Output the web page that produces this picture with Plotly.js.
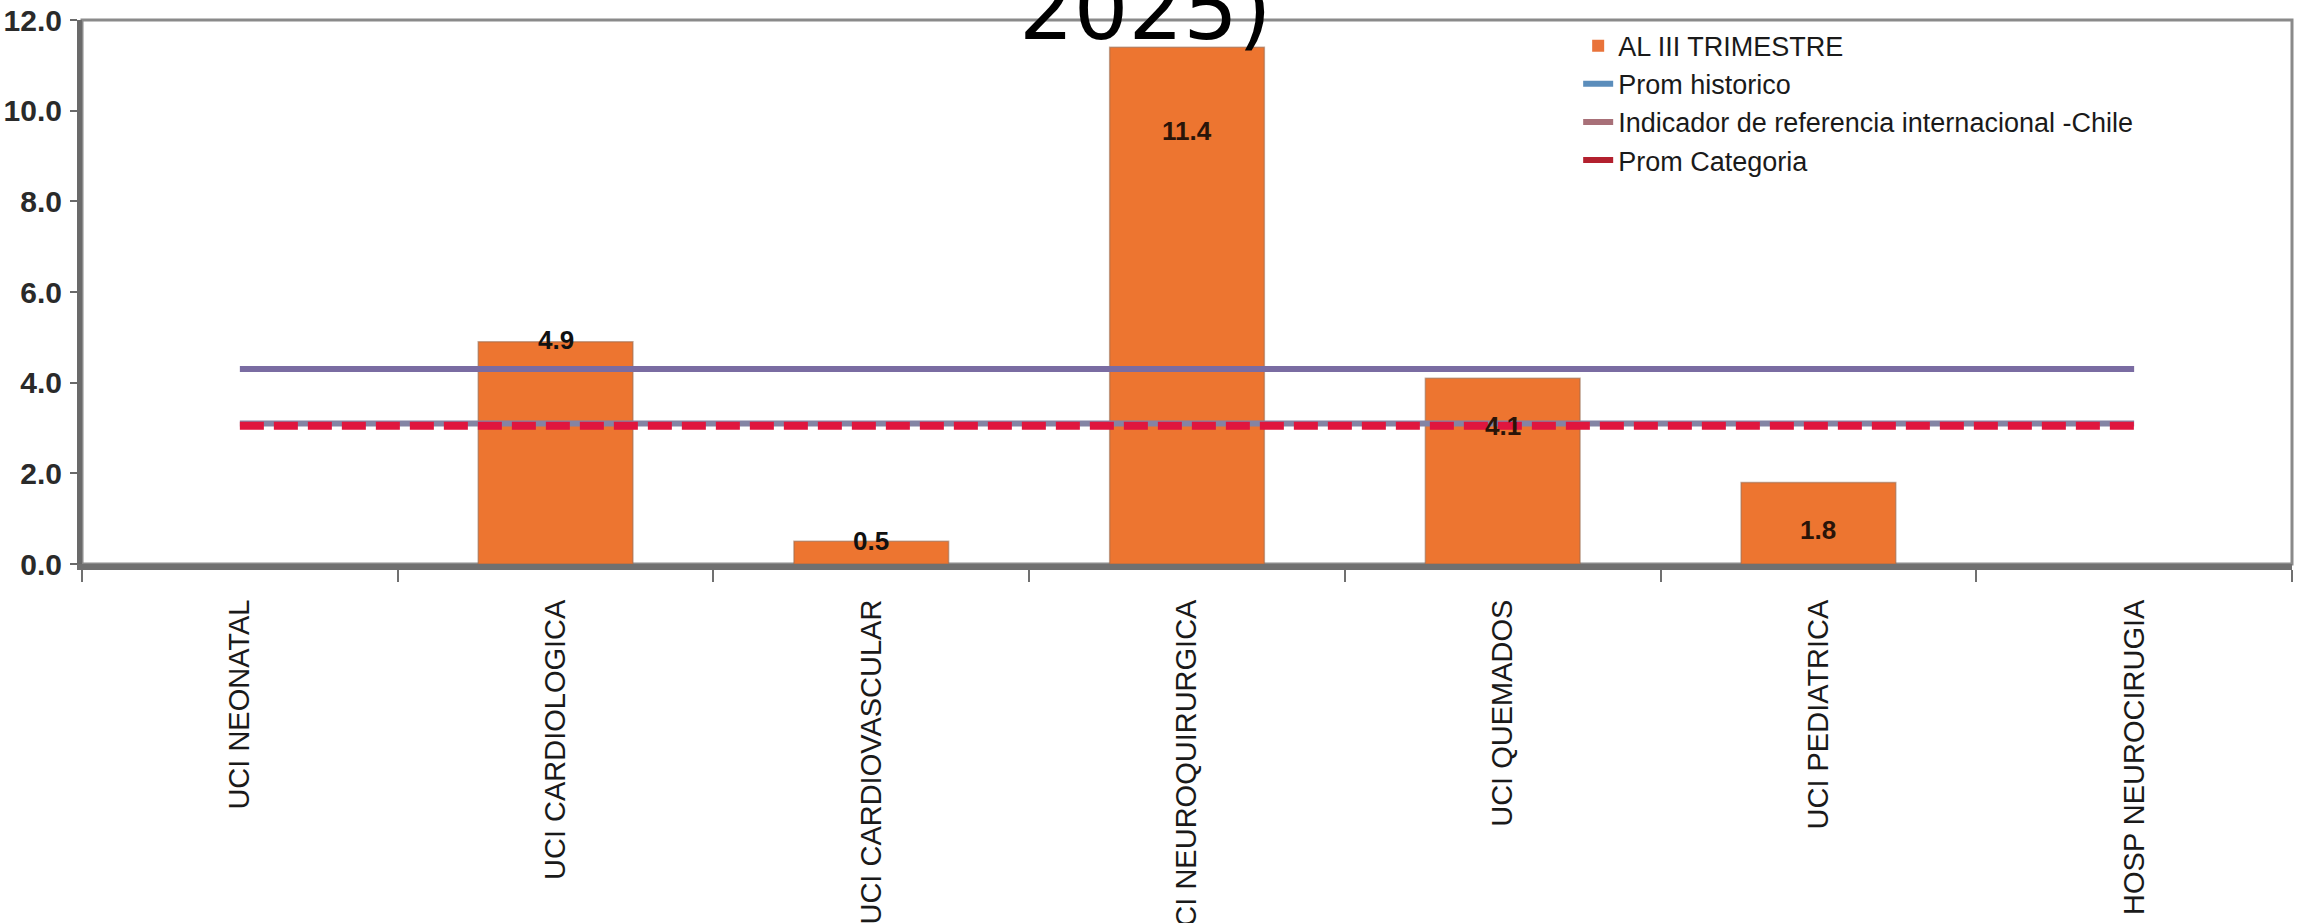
<!DOCTYPE html>
<html>
<head>
<meta charset="utf-8">
<script src="https://cdn.plot.ly/plotly-3.0.1.min.js"></script>
<style>
  html, body { margin: 0; padding: 0; background: #ffffff; }
  #chart { width: 2302px; height: 923px; }
</style>
</head>
<body>
<div id="chart"></div>
<script>
// ---- data ----
const categories = ['UCI NEONATAL', 'UCI CARDIOLOGICA', 'UCI CARDIOVASCULAR', 'UCI NEUROQUIRURGICA', 'UCI QUEMADOS', 'UCI PEDIATRICA', 'HOSP NEUROCIRUGIA'];
const alIIITrimestre = [null, 4.9, 0.5, 11.4, 4.1, 1.8, null];
const promHistorico = [4.3, 4.3, 4.3, 4.3, 4.3, 4.3, 4.3];
const indicadorInternacional = [3.1, 3.1, 3.1, 3.1, 3.1, 3.1, 3.1];
const promCategoria = [3.05, 3.05, 3.05, 3.05, 3.05, 3.05, 3.05];
const yTickValues = [0, 2, 4, 6, 8, 10, 12];
const titleText = '2025)';

// ---- style (label offsets in px) ----
const labelShift = [0, 2, 0, -84, -48, -48, 0];

const traces = [
  {
    type: 'bar', name: 'AL III TRIMESTRE', x: categories, y: alIIITrimestre,
    marker: { color: '#ED7530', line: { color: 'rgba(150,105,80,0.55)', width: 1.5 } },
    showlegend: false, hoverinfo: 'x+y'
  },
  {
    type: 'scatter', mode: 'lines', name: 'Indicador de referencia internacional -Chile',
    x: categories, y: indicadorInternacional,
    line: { color: '#8484A4', width: 6 }, showlegend: false
  },
  {
    type: 'scatter', mode: 'lines', name: 'Prom historico',
    x: categories, y: promHistorico,
    line: { color: '#7A6CA2', width: 6 }, showlegend: false
  },
  {
    type: 'scatter', mode: 'lines', name: 'Prom Categoria',
    x: categories, y: promCategoria,
    line: { color: '#E0163E', width: 8, dash: '24px,10px' }, showlegend: false
  },
  // legend entries (as they appear in the reference legend)
  { type: 'bar', name: 'AL III TRIMESTRE', x: [categories[0]], y: [null],
    marker: { color: '#E9733A' }, showlegend: true, hoverinfo: 'skip' },
  { type: 'scatter', mode: 'lines', name: 'Prom historico', x: [categories[0]], y: [null],
    line: { color: '#5B8DBB', width: 6 }, showlegend: true, hoverinfo: 'skip' },
  { type: 'scatter', mode: 'lines', name: 'Indicador de referencia internacional -Chile', x: [categories[0]], y: [null],
    line: { color: '#A87078', width: 6 }, showlegend: true, hoverinfo: 'skip' },
  { type: 'scatter', mode: 'lines', name: 'Prom Categoria', x: [categories[0]], y: [null],
    line: { color: '#B3202E', width: 6 }, showlegend: true, hoverinfo: 'skip' }
];

const annotations = [];
alIIITrimestre.forEach((v, i) => {
  if (v === null) return;
  annotations.push({
    x: categories[i], y: v, xref: 'x', yref: 'y',
    text: v.toFixed(1), showarrow: false,
    yanchor: 'middle', xanchor: 'center', yshift: labelShift[i],
    font: { family: 'Liberation Sans, Arial, sans-serif', size: 26, weight: 700, color: i <= 2 ? '#111111' : '#2a1408' }
  });
});

const layout = {
  width: 2302, height: 923,
  margin: { l: 82, r: 10, t: 20, b: 359 },
  paper_bgcolor: '#ffffff', plot_bgcolor: '#ffffff',
  barmode: 'overlay',
  bargap: 0.51,
  showlegend: true,
  title: {
    text: titleText,
    font: { family: 'DejaVu Sans, sans-serif', size: 86, color: '#000000' },
    x: 0.4975, xanchor: 'center', xref: 'container',
    y: 0.958, yanchor: 'bottom', yref: 'container'
  },
  legend: {
    x: 0.677, xanchor: 'left', y: 0.997, yanchor: 'top',
    bgcolor: 'rgba(255,255,255,0)', borderwidth: 0,
    font: { family: 'Liberation Sans, Arial, sans-serif', size: 27, color: '#1a1a1a' },
    tracegroupgap: 0, itemwidth: 30
  },
  xaxis: {
    type: 'category', categoryorder: 'array', categoryarray: categories,
    showline: true, linecolor: '#707070', linewidth: 6,
    ticks: 'outside', tickson: 'boundaries', ticklen: 12, tickwidth: 2, tickcolor: '#707070',
    tickangle: -90, ticklabelstandoff: 18,
    tickfont: { family: 'Liberation Sans, Arial, sans-serif', size: 29, color: '#1a1a1a' },
    showgrid: false, zeroline: false, fixedrange: true
  },
  yaxis: {
    range: [0, 12], tickvals: yTickValues, tickformat: '.1f',
    showline: true, linecolor: '#6a6a6a', linewidth: 5,
    ticks: 'outside', ticklen: 7, tickwidth: 2, tickcolor: '#6a6a6a',
    ticklabelstandoff: 2,
    tickfont: { family: 'Liberation Sans, Arial, sans-serif', size: 30, weight: 700, color: '#2a2a2a' },
    showgrid: false, zeroline: false, fixedrange: true
  },
  shapes: [
    { type: 'rect', xref: 'paper', yref: 'paper', x0: 0, x1: 1, y0: 0, y1: 1,
      line: { color: '#8a8a8a', width: 3 }, fillcolor: 'rgba(0,0,0,0)', layer: 'below' }
  ],
  annotations: annotations
};

Plotly.newPlot('chart', traces, layout, { displayModeBar: false, staticPlot: true });
</script>
</body>
</html>
